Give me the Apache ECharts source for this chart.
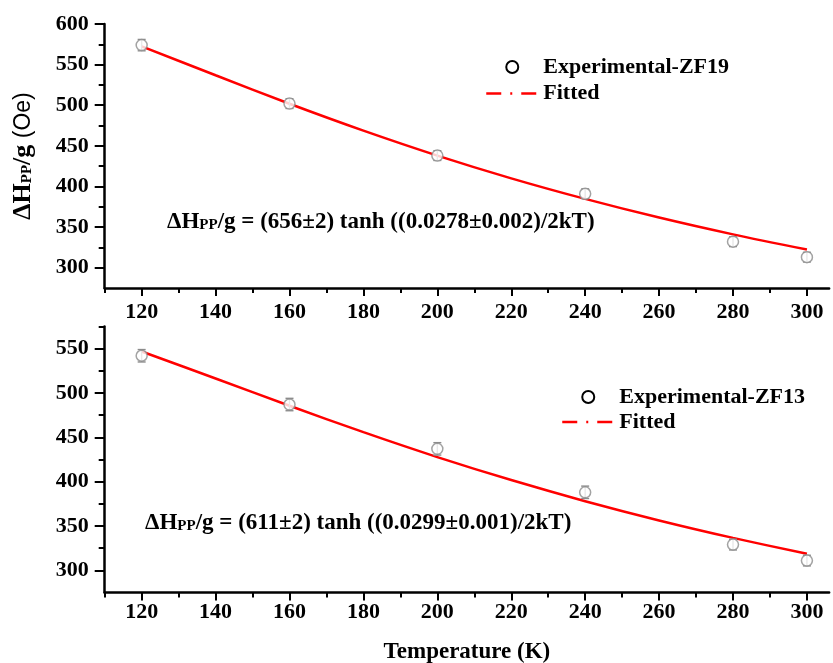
<!DOCTYPE html>
<html>
<head>
<meta charset="utf-8">
<script src="https://cdn.jsdelivr.net/npm/echarts@6/dist/echarts.min.js"></script>
<style>
html, body { margin: 0; padding: 0; background: #fff; }
#main { width: 833px; height: 663px; }
</style>
</head>
<body>
<div id="main"></div>
<script>
// measured points (K, Oe)
const temps = [120, 160, 200, 240, 280, 300];
const zf19 = [574, 502, 438, 391, 332, 313];
const zf19Err = [7, 6, 6, 6, 6, 6];
const zf13 = [542, 487, 437, 388, 329, 311];
const zf13Err = [7, 7, 7, 7, 6, 6];

// fitted curves
const fitT = [120, 140, 160, 180, 200, 220, 240, 260, 280, 300];
const fit19 = [572.5, 536.9, 501.8, 468.7, 438.0, 410.0, 384.7, 361.7, 341.0, 322.3];
const fit13 = [546.8, 516.4, 485.6, 455.8, 427.7, 401.8, 378.0, 356.3, 336.6, 318.6];

// ticks
const xMajor = [120, 140, 160, 180, 200, 220, 240, 260, 280, 300];
const xMinor = [110, 130, 150, 170, 190, 210, 230, 250, 270, 290];
const yMajorTop = [300, 350, 400, 450, 500, 550, 600];
const yMinorTop = [325, 375, 425, 475, 525, 575];
const yMajorBot = [300, 350, 400, 450, 500, 550];
const yMinorBot = [325, 375, 425, 475, 525, 575];

var FONT = 'Liberation Serif';
var dom = document.getElementById('main');
var myChart = echarts.init(dom, null, { renderer: 'canvas' });

function pairs(xs, ys, es) {
    return xs.map((x, i) => es ? [x, ys[i], es[i]] : [x, ys[i]]);
}

function errRender(params, api) {
    var x = api.value(0), y = api.value(1), e = api.value(2);
    var hi = api.coord([x, y + e]);
    var lo = api.coord([x, y - e]);
    var w = 4;
    var st = { stroke: '#8c8c8c', lineWidth: 1.4 };
    return {
        type: 'group',
        children: [
            { type: 'line', shape: { x1: hi[0], y1: hi[1], x2: lo[0], y2: lo[1] }, style: st },
            { type: 'line', shape: { x1: hi[0] - w, y1: hi[1], x2: hi[0] + w, y2: hi[1] }, style: st },
            { type: 'line', shape: { x1: lo[0] - w, y1: lo[1], x2: lo[0] + w, y2: lo[1] }, style: st }
        ]
    };
}

function mainX(grid, withName, margin) {
    var ax = {
        gridIndex: grid, type: 'value', min: 110, max: 306, position: 'bottom',
        axisLine: { onZero: false, lineStyle: { color: '#000', width: 2.5 } },
        axisTick: { customValues: xMajor, length: 8, lineStyle: { color: '#000', width: 2 } },
        axisLabel: { customValues: xMajor, margin: margin, fontSize: 22, fontWeight: 'bold', fontFamily: FONT, color: '#000' },
        splitLine: { show: false }
    };
    if (withName) {
        ax.name = 'Temperature (K)';
        ax.nameLocation = 'middle';
        ax.nameGap = 48;
        ax.nameTextStyle = { fontSize: 23, fontWeight: 'bold', fontFamily: FONT, color: '#000' };
    }
    return ax;
}
function minorX(grid) {
    return {
        gridIndex: grid, type: 'value', min: 110, max: 306, position: 'bottom',
        axisLine: { show: false },
        axisTick: { customValues: xMinor, length: 5, lineStyle: { color: '#000', width: 2 } },
        axisLabel: { show: false },
        splitLine: { show: false }
    };
}
function mainY(grid, min, max, ticks) {
    return {
        gridIndex: grid, type: 'value', min: min, max: max, position: 'left',
        axisLine: { onZero: false, lineStyle: { color: '#000', width: 2.5 } },
        axisTick: { customValues: ticks, length: 10, lineStyle: { color: '#000', width: 2 } },
        axisLabel: { customValues: ticks, margin: 16, fontSize: 22, fontWeight: 'bold', fontFamily: FONT, color: '#000' },
        splitLine: { show: false }
    };
}
function minorY(grid, min, max, ticks) {
    return {
        gridIndex: grid, type: 'value', min: min, max: max, position: 'left',
        axisLine: { show: false },
        axisTick: { customValues: ticks, length: 6, lineStyle: { color: '#000', width: 2 } },
        axisLabel: { show: false },
        splitLine: { show: false }
    };
}

var yTop = mainY(0, 275, 600, yMajorTop);
yTop.name = '{b|ΔH}{s|PP}{b|/g}{n| (Oe)}';
yTop.nameLocation = 'middle';
yTop.nameRotate = 90;
yTop.nameGap = 62;
yTop.nameTextStyle = {
    rich: {
        b: { fontSize: 26, fontWeight: 'bold', fontFamily: FONT, color: '#000', padding: [0, 0, 6, 0] },
        s: { fontSize: 15, fontWeight: 'bold', fontFamily: FONT, color: '#000' },
        n: { fontSize: 23, fontFamily: 'Liberation Sans', color: '#000', padding: [0, 0, 6, 0] }
    }
};

var legendText = { fontSize: 22, fontWeight: 'bold', fontFamily: FONT, color: '#000', lineHeight: 22 };
var legendLine = { color: '#ff0000', width: 2.5, type: [15, 9, 2, 9] };
var noSymbol = { color: 'rgba(0,0,0,0)', borderWidth: 0, opacity: 0 };

var eqRich = {
    b: { fontSize: 23, fontWeight: 'bold', fontFamily: FONT, fill: '#000', padding: [0, 0, 5, 0] },
    s: { fontSize: 15, fontWeight: 'bold', fontFamily: FONT, fill: '#000' }
};

var option = {
    animation: false,
    backgroundColor: '#fff',
    grid: [
        { left: 104.7, top: 24, width: 724.4, height: 264, outerBoundsMode: 'none' },
        { left: 104.7, top: 326.5, width: 724.4, height: 266, outerBoundsMode: 'none' }
    ],
    xAxis: [mainX(0, false, 13), minorX(0), mainX(1, true, 9), minorX(1)],
    yAxis: [yTop, minorY(0, 275, 600, yMinorTop), mainY(1, 275, 575, yMajorBot), minorY(1, 275, 575, yMinorBot)],
    legend: [
        {
            left: 480, top: 51, orient: 'vertical', itemWidth: 52, itemHeight: 12, itemGap: 4.6,
            textStyle: legendText,
            data: [
                { name: 'Experimental-ZF19', icon: 'circle', itemStyle: { color: '#fff', borderColor: '#000', borderWidth: 2 } },
                { name: 'Fitted', lineStyle: legendLine, itemStyle: noSymbol }
            ]
        },
        {
            left: 556, top: 381, orient: 'vertical', itemWidth: 52, itemHeight: 12, itemGap: 3,
            textStyle: legendText,
            data: [
                { name: 'Experimental-ZF13', icon: 'circle', itemStyle: { color: '#fff', borderColor: '#000', borderWidth: 2 } },
                { name: 'Fitted', lineStyle: legendLine, itemStyle: noSymbol }
            ]
        }
    ],
    graphic: [
        {
            type: 'text', left: 167, top: 211,
            style: { text: '{b|ΔH}{s|PP}{b|/g = (656±2) tanh ((0.0278±0.002)/2kT)}', rich: eqRich }
        },
        {
            type: 'text', left: 145, top: 512,
            style: { text: '{b|ΔH}{s|PP}{b|/g = (611±2) tanh ((0.0299±0.001)/2kT)}', rich: eqRich }
        }
    ],
    series: [
        {
            name: 'Fitted', type: 'line', xAxisIndex: 0, yAxisIndex: 0,
            data: pairs(fitT, fit19), smooth: 0.3, symbol: 'none',
            lineStyle: { color: '#ff0000', width: 2.5 }, itemStyle: { color: '#ff0000' }, z: 2
        },
        {
            name: 'Experimental-ZF19', type: 'custom', xAxisIndex: 0, yAxisIndex: 0,
            data: pairs(temps, zf19, zf19Err), renderItem: errRender, encode: { x: 0, y: 1 }, z: 3
        },
        {
            name: 'Experimental-ZF19', type: 'scatter', xAxisIndex: 0, yAxisIndex: 0,
            data: pairs(temps, zf19), symbol: 'circle', symbolSize: 11,
            itemStyle: { color: '#fff', borderColor: '#8c8c8c', borderWidth: 1.5 }, z: 4
        },
        {
            name: 'Fitted', type: 'line', xAxisIndex: 2, yAxisIndex: 2,
            data: pairs(fitT, fit13), smooth: 0.3, symbol: 'none',
            lineStyle: { color: '#ff0000', width: 2.5 }, itemStyle: { color: '#ff0000' }, z: 2
        },
        {
            name: 'Experimental-ZF13', type: 'custom', xAxisIndex: 2, yAxisIndex: 2,
            data: pairs(temps, zf13, zf13Err), renderItem: errRender, encode: { x: 0, y: 1 }, z: 3
        },
        {
            name: 'Experimental-ZF13', type: 'scatter', xAxisIndex: 2, yAxisIndex: 2,
            data: pairs(temps, zf13), symbol: 'circle', symbolSize: 11,
            itemStyle: { color: '#fff', borderColor: '#8c8c8c', borderWidth: 1.5 }, z: 4
        }
    ]
};

myChart.setOption(option);
window.addEventListener('resize', myChart.resize);
</script>
</body>
</html>
